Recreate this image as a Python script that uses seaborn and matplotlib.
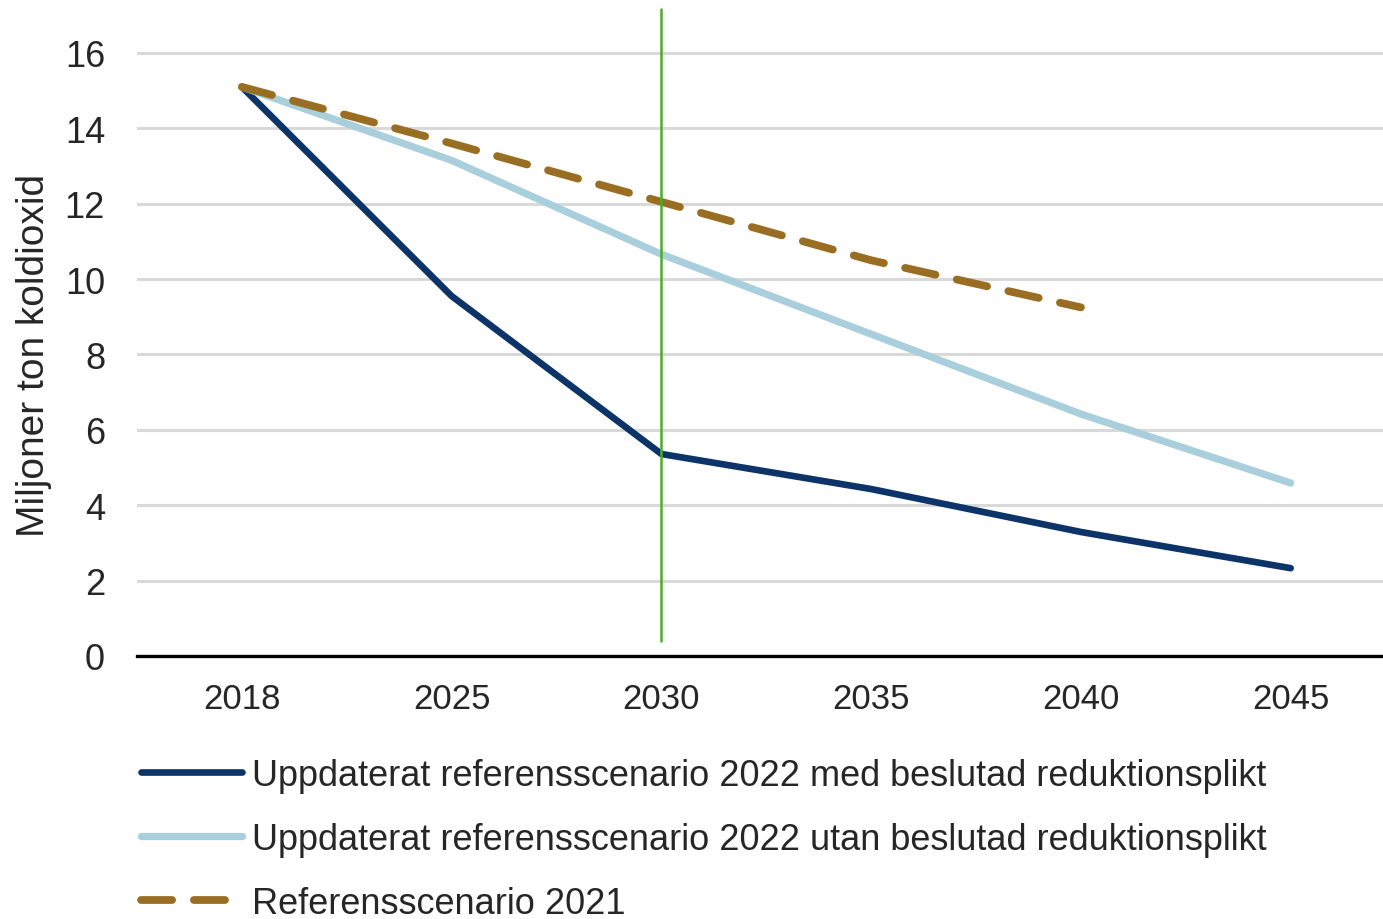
import matplotlib
matplotlib.use('Agg')
import matplotlib.pyplot as plt
import seaborn as sns

# --- data ---
years = ['2018', '2025', '2030', '2035', '2040', '2045']
med_reduktionsplikt = [15.1, 9.55, 5.36, 4.43, 3.29, 2.33]
utan_reduktionsplikt = [15.1, 13.15, 10.66, 8.54, 6.42, 4.59]
referens_2021 = [15.1, 13.6, 12.05, 10.5, 9.25]

labels = ['Uppdaterat referensscenario 2022 med beslutad reduktionsplikt',
          'Uppdaterat referensscenario 2022 utan beslutad reduktionsplikt',
          'Referensscenario 2021']

sns.set_style('white')
plt.rcParams['font.family'] = ['Liberation Sans', 'DejaVu Sans']

fig = plt.figure(figsize=(13.83, 9.2), dpi=100)
ax = fig.add_axes([137 / 1383, 1 - 657 / 920, 1 - 137 / 1383, 652 / 920])

sns.lineplot(x=years, y=med_reduktionsplikt, ax=ax, color='#0d3468', linewidth=4.8,
             label=labels[0], solid_capstyle='round', legend=False)
sns.lineplot(x=years, y=utan_reduktionsplikt, ax=ax, color='#a9cedc', linewidth=5.2,
             label=labels[1], solid_capstyle='round', legend=False)
sns.lineplot(x=years[:len(referens_2021)], y=referens_2021, ax=ax, color='#9a6e22',
             linewidth=5.6, linestyle=(0, (4.0, 2.8)), dash_capstyle='round',
             label=labels[2], legend=False)

# vertikal linje vid 2030
ax.axvline(years.index('2030'), ymin=15 / 652, ymax=647 / 652, color='#4cad2c', linewidth=1.8)

ax.set_ylim(0, 17.3)
ax.set_xlim(-0.5, 5.44)
ax.set_yticks(range(0, 17, 2))
ax.yaxis.grid(True, color='#d9d9d9', linewidth=2.2)
ax.set_axisbelow(True)
for s in ['top', 'right', 'left']:
    ax.spines[s].set_visible(False)
ax.spines['bottom'].set_color('black')
ax.spines['bottom'].set_linewidth(2.4)
ax.spines['bottom'].set_zorder(5)

ax.tick_params(axis='y', length=0, pad=23, labelsize=26)
ax.tick_params(axis='x', length=0, pad=19, labelsize=25)

ax.set_ylabel('Miljoner ton koldioxid', fontsize=28)
ax.yaxis.set_label_coords(-0.068, 0.463)
ax.set_xlabel('')

handles, labs = ax.get_legend_handles_labels()
fig.legend(handles, labs, loc='upper left', bbox_to_anchor=(141 / 1383, 1 - 759 / 920),
           frameon=False, fontsize=26, handlelength=2.8, handletextpad=0.28,
           labelspacing=0.8, borderpad=0, borderaxespad=0)

fig.savefig('out.png', dpi=100)
